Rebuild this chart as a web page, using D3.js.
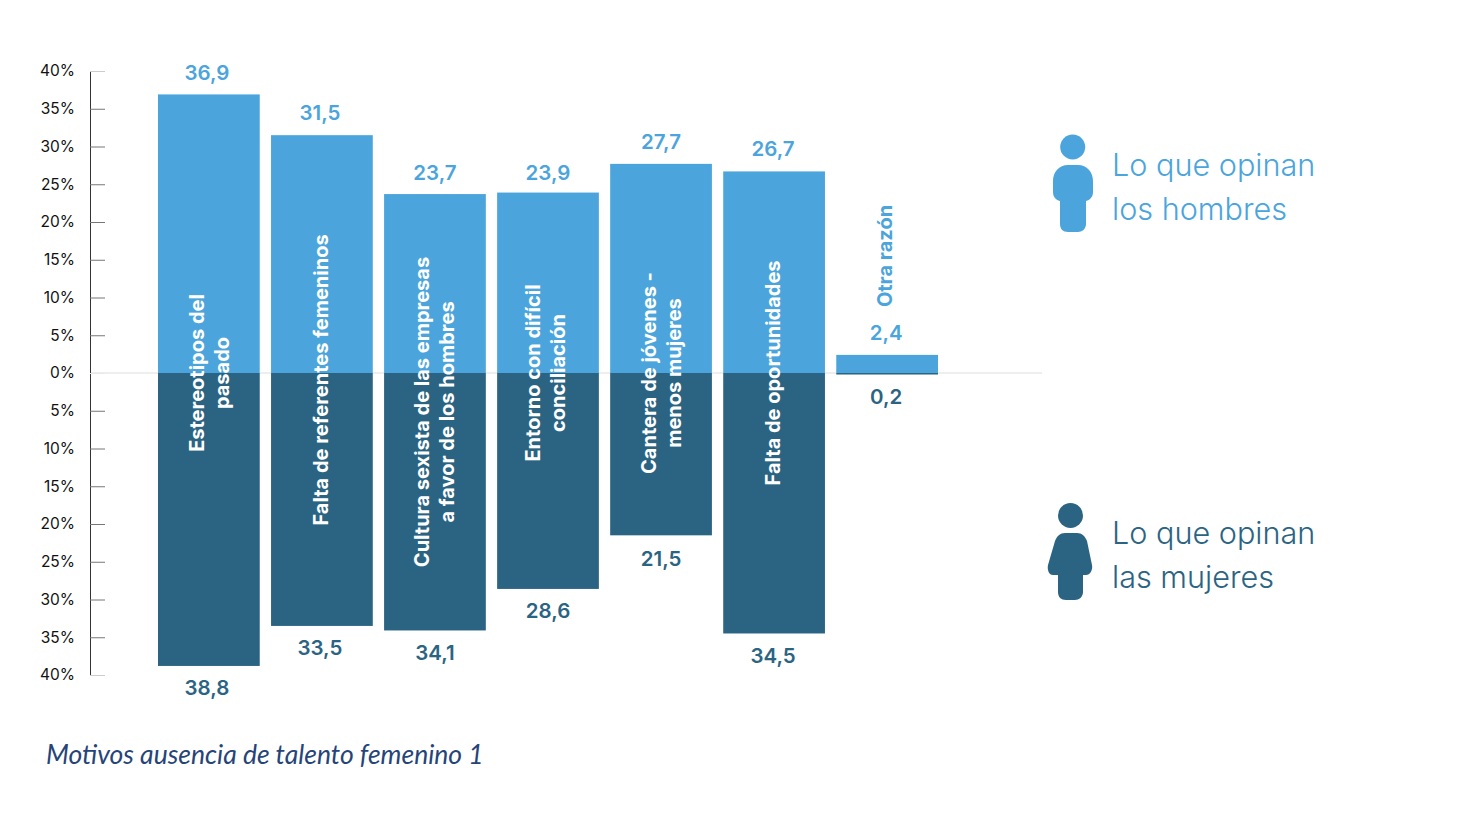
<!DOCTYPE html>
<html lang="es">
<head>
<meta charset="utf-8">
<script src="https://cdn.jsdelivr.net/npm/d3@7"></script>
<style>
  html, body { margin: 0; padding: 0; background: #fff; }
  svg { display: block; }
  text { font-family: Inter, sans-serif; }
  .axis text { font-size: 15.5px; fill: #111; }
  .value { font-size: 20.5px; font-weight: 600; text-anchor: middle; }
  .cat { font-size: 20px; font-weight: 700; text-anchor: middle; fill: #fff; }
  .legend-text { font-size: 30.6px; font-weight: 300; }
  .caption { font-family: Lato, sans-serif; font-style: italic; font-size: 26.5px; fill: #264478; }
</style>
</head>
<body>
<svg id="chart" width="1474" height="824"></svg>
<script>
const categories = [
    ["Estereotipos del", "pasado"],
    ["Falta de referentes femeninos"],
    ["Cultura sexista de las empresas", "a favor de los hombres"],
    ["Entorno con difícil", "conciliación"],
    ["Cantera de jóvenes -", "menos mujeres"],
    ["Falta de oportunidades"],
    ["Otra razón"]
];
const men = [36.9, 31.5, 23.7, 23.9, 27.7, 26.7, 2.4];
const women = [38.8, 33.5, 34.1, 28.6, 21.5, 34.5, 0.2];
const tickValues = [40, 35, 30, 25, 20, 15, 10, 5, 0, -5, -10, -15, -20, -25, -30, -35, -40];

const blue = "#4ba5dc";
const navy = "#2b6483";
const fmt = v => String(v).replace(".", ",");

const svg = d3.select("#chart");

const x = d3.scaleBand()
    .domain(d3.range(categories.length))
    .range([158, 938])
    .paddingInner(0.1)
    .paddingOuter(0);

const y = d3.scaleLinear()
    .domain([40, -40])
    .range([71, 675]);

// zero line, behind the bars
svg.append("line")
    .attr("x1", 90).attr("x2", 1042)
    .attr("y1", y(0)).attr("y2", y(0))
    .attr("stroke", "#e8e8e8")
    .attr("stroke-width", 1.5);

const axis = d3.axisLeft(y)
    .tickValues(tickValues)
    .tickSizeInner(-15)
    .tickSizeOuter(0)
    .tickPadding(15)
    .tickFormat(d => Math.abs(d) + "%");

const gAxis = svg.append("g")
    .attr("class", "axis")
    .attr("transform", "translate(90,0)")
    .call(axis);

gAxis.select(".domain").attr("stroke", "#333").attr("stroke-width", 1);
gAxis.selectAll(".tick line").attr("stroke", d => d === 0 ? "#e8e8e8" : (Math.abs(d) === 40 ? "#ccc" : "#777"));

// bars
svg.selectAll(".bar-men")
    .data(men)
    .enter().append("rect")
        .attr("class", "bar-men")
        .attr("x", (d, i) => x(i))
        .attr("width", x.bandwidth())
        .attr("y", d => y(d))
        .attr("height", d => y(0) - y(d))
        .attr("fill", blue);

svg.selectAll(".bar-women")
    .data(women)
    .enter().append("rect")
        .attr("class", "bar-women")
        .attr("x", (d, i) => x(i))
        .attr("width", x.bandwidth())
        .attr("y", y(0))
        .attr("height", d => y(-d) - y(0))
        .attr("fill", navy);

// value labels, hand placed in the original so each one gets a small nudge
const nudgeX = [-2, -2, 0, 0, 0, -1, -1];
const nudgeMen = [1, 0, 1, 2, 0, 0, 0];
const nudgeWomen = [0, 0, 1, 0, 2, 1, 0];

svg.selectAll(".value-men")
    .data(men)
    .enter().append("text")
        .attr("class", "value value-men")
        .attr("x", (d, i) => x(i) + x.bandwidth() / 2 + nudgeX[i])
        .attr("y", (d, i) => y(d) - 15 + nudgeMen[i])
        .attr("fill", blue)
        .text(fmt);

svg.selectAll(".value-women")
    .data(women)
    .enter().append("text")
        .attr("class", "value value-women")
        .attr("x", (d, i) => x(i) + x.bandwidth() / 2 + nudgeX[i])
        .attr("y", (d, i) => y(-d) + 29 + nudgeWomen[i])
        .attr("fill", navy)
        .text(fmt);

// category labels, rotated inside the bars
const catShift = [[1, 0], [-1, 7], [0, 39], [-3, 0], [0, 0], [-1, 0], [-2, -117]];
const lineGap = 25;

const cat = svg.selectAll(".cat")
    .data(categories)
    .enter().append("text")
        .attr("class", "cat")
        .attr("transform", (d, i) => {
            const cx = x(i) + x.bandwidth() / 2 + catShift[i][0];
            const cy = y(0) + catShift[i][1];
            return "translate(" + cx + "," + cy + ") rotate(-90)";
        })
        .style("fill", (d, i) => i === categories.length - 1 ? blue : "#fff");

cat.selectAll("tspan")
    .data(d => d.map(line => ({line: line, n: d.length})))
    .enter().append("tspan")
        .attr("x", 0)
        .attr("y", (d, j) => 7 + (j - (d.n - 1) / 2) * lineGap)
        .text(d => d.line);

// legend
const legendMen = svg.append("g").attr("fill", blue);
legendMen.append("circle").attr("cx", 1072.7).attr("cy", 147).attr("r", 12.5);
legendMen.append("path").attr("d",
    "M1068 165 H1078 C1087 165 1093 172 1093 181 V192 C1093 197 1090 200 1086 201 V224 " +
    "C1086 229 1082 232 1078 232 H1068 C1063 232 1060 229 1060 224 V201 C1056 200 1053 197 1053 192 V181 C1053 172 1059 165 1068 165 Z");

const legendWomen = svg.append("g").attr("fill", navy);
legendWomen.append("circle").attr("cx", 1070.5).attr("cy", 515.5).attr("r", 12.5);
legendWomen.append("path").attr("d",
    "M1065 533 H1077 C1082 533 1085 536 1087 541 L1092 565 C1093 570 1090 575 1086 575 H1083 V592 " +
    "C1083 597 1079 600 1075 600 H1066 C1061 600 1058 597 1058 592 V575 H1053 C1049 575 1047 570 1048 565 L1055 541 C1057 536 1060 533 1065 533 Z");

const legendRows = [
    {lines: ["Lo que opinan", "los hombres"], color: blue, y: 176},
    {lines: ["Lo que opinan", "las mujeres"], color: navy, y: 544}
];
legendRows.forEach(function (row) {
    row.lines.forEach(function (line, j) {
        svg.append("text")
            .attr("class", "legend-text")
            .attr("x", 1112)
            .attr("y", row.y + j * 44)
            .attr("fill", row.color)
            .text(line);
    });
});

svg.append("text")
    .attr("class", "caption")
    .attr("x", 46)
    .attr("y", 764)
    .text("Motivos ausencia de talento femenino 1");
</script>
</body>
</html>
